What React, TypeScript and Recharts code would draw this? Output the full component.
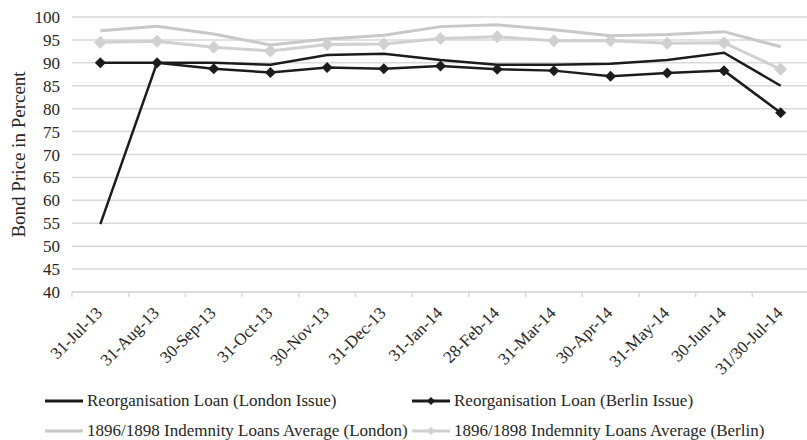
import { LineChart, Line, XAxis, YAxis, CartesianGrid, Legend } from 'recharts';

const dates = [
  '31-Jul-13', '31-Aug-13', '30-Sep-13', '31-Oct-13', '30-Nov-13', '31-Dec-13', '31-Jan-14',
  '28-Feb-14', '31-Mar-14', '30-Apr-14', '31-May-14', '30-Jun-14', '31/30-Jul-14',
];
const reorgLondon = [54.8, 90.0, 90.0, 89.6, 91.7, 92.0, 90.6, 89.6, 89.6, 89.8, 90.6, 92.2, 85.0];
const reorgBerlin = [90.0, 90.0, 88.7, 87.9, 89.0, 88.7, 89.3, 88.6, 88.3, 87.1, 87.8, 88.3, 79.1];
const indemLondon = [97.0, 98.0, 96.3, 93.9, 95.2, 96.0, 97.9, 98.3, 97.2, 95.9, 96.2, 96.8, 93.5];
const indemBerlin = [94.5, 94.7, 93.4, 92.6, 94.0, 94.1, 95.3, 95.7, 94.8, 94.8, 94.3, 94.4, 88.6];
const yTicks = [40, 45, 50, 55, 60, 65, 70, 75, 80, 85, 90, 95, 100];

const FONT = '"Liberation Serif", "Times New Roman", serif';
const BLACK = '#1c1c1c';
const GREY_L = '#c8c8c8';
const GREY_B = '#d0d0d0';
const GRID = '#d9d9d9';

const data = dates.map((d, i) => ({
  date: d,
  reorgLondon: reorgLondon[i],
  reorgBerlin: reorgBerlin[i],
  indemLondon: indemLondon[i],
  indemBerlin: indemBerlin[i],
}));

const legendItems = [
  { name: 'Reorganisation Loan (London Issue)', color: BLACK, marker: false },
  { name: 'Reorganisation Loan (Berlin Issue)', color: BLACK, marker: true },
  { name: '1896/1898 Indemnity Loans Average (London)', color: GREY_L, marker: false },
  { name: '1896/1898 Indemnity Loans Average (Berlin)', color: GREY_B, marker: true },
];

function diamondDot(fill: string, r: number) {
  return (props: any) => {
    const { cx, cy, index } = props;
    if (cx == null || cy == null) return <g key={index} />;
    return (
      <polygon
        key={index}
        points={`${cx},${cy - r} ${cx + r},${cy} ${cx},${cy + r} ${cx - r},${cy}`}
        fill={fill}
      />
    );
  };
}

function DateTick(props: any) {
  const { x, y, payload } = props;
  const edge = x - (payload.offset ?? 0);
  const tx = x + 3;
  const ty = y + 22;
  return (
    <g>
      <line x1={edge} x2={edge} y1={y} y2={y + 5} stroke={GRID} strokeWidth={1.5} />
      <text
        x={tx}
        y={ty}
        transform={`rotate(-45, ${tx}, ${ty})`}
        textAnchor="end"
        fontSize={17}
        fontFamily={FONT}
        fill="#262626"
      >
        {payload.value}
      </text>
    </g>
  );
}

function LegendBox() {
  const cols = [45, 412];
  return (
    <div style={{ position: 'relative', width: 807, height: 60, fontFamily: FONT, fontSize: 17, color: '#262626' }}>
      {legendItems.map((it, i) => (
        <div
          key={it.name}
          style={{
            position: 'absolute',
            left: cols[i % 2],
            top: Math.floor(i / 2) * 30,
            height: 30,
            display: 'flex',
            alignItems: 'center',
            whiteSpace: 'nowrap',
          }}
        >
          <svg width={38} height={12} style={{ marginRight: 4 }}>
            <line x1={0} x2={38} y1={6} y2={6} stroke={it.color} strokeWidth={3} />
            {it.marker && <polygon points="19,2 23,6 19,10 15,6" fill={it.color} />}
          </svg>
          <span>{it.name}</span>
        </div>
      ))}
    </div>
  );
}

export default function App() {
  return (
    <div style={{ position: 'absolute', left: 0, top: 0, width: 807, height: 440, overflow: 'hidden', background: '#fff' }}>
      <LineChart width={809} height={440} data={data} margin={{ top: 17, right: 0, bottom: 0, left: 0 }}>
        <CartesianGrid vertical={false} stroke={GRID} strokeWidth={1.5} />
        <XAxis
          dataKey="date"
          scale="band"
          height={148}
          interval={0}
          tickSize={0}
          tickMargin={0}
          tickLine={false}
          axisLine={{ stroke: GRID, strokeWidth: 1.5 }}
          tick={<DateTick />}
        />
        <YAxis
          width={72}
          domain={[40, 100]}
          ticks={yTicks}
          interval={0}
          axisLine={false}
          tickLine={false}
          tickSize={0}
          tickMargin={12}
          tick={{ fontSize: 17, fontFamily: FONT, fill: '#262626' }}
          label={{
            content: (p: any) => {
              const vb = p.viewBox;
              const lx = vb.x + 18;
              const ly = vb.y + vb.height / 2;
              return (
                <text
                  x={lx}
                  y={ly}
                  transform={`rotate(-90, ${lx}, ${ly})`}
                  textAnchor="middle"
                  dominantBaseline="central"
                  fontSize={19}
                  fontFamily={FONT}
                  fill="#262626"
                >
                  Bond Price in Percent
                </text>
              );
            },
          }}
        />
        <Legend
          layout="horizontal"
          verticalAlign="middle"
          align="center"
          wrapperStyle={{ top: 386, left: 0, width: 807 }}
          content={() => <LegendBox />}
        />
        <Line dataKey="indemLondon" stroke={GREY_L} strokeWidth={3} dot={false} isAnimationActive={false} />
        <Line dataKey="indemBerlin" stroke={GREY_B} strokeWidth={3} dot={diamondDot(GREY_B, 6.5)} isAnimationActive={false} />
        <Line dataKey="reorgLondon" stroke={BLACK} strokeWidth={2.5} dot={false} isAnimationActive={false} />
        <Line dataKey="reorgBerlin" stroke={BLACK} strokeWidth={2.5} dot={diamondDot(BLACK, 5.5)} isAnimationActive={false} />
      </LineChart>
    </div>
  );
}
